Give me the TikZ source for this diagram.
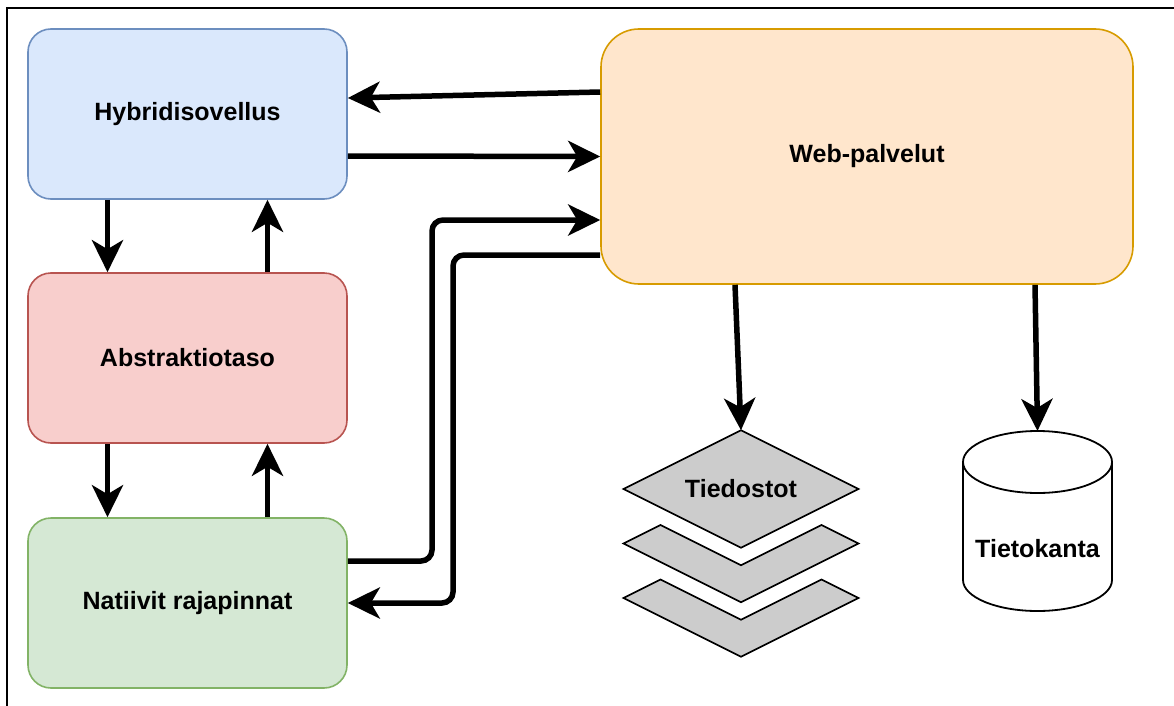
\documentclass[tikz,border=0pt]{standalone}
\usepackage{fontspec}
\setmainfont{Liberation Sans}
\usetikzlibrary{arrows.meta}
\definecolor{hybFill}{HTML}{DAE8FC}\definecolor{hybLine}{HTML}{6C8EBF}
\definecolor{absFill}{HTML}{F8CECC}\definecolor{absLine}{HTML}{B85450}
\definecolor{natFill}{HTML}{D5E8D4}\definecolor{natLine}{HTML}{82B366}
\definecolor{webFill}{HTML}{FFE6CC}\definecolor{webLine}{HTML}{D79B00}
\definecolor{layerFill}{HTML}{CCCCCC}
\begin{document}
\begin{tikzpicture}[x=1pt,y=-1pt,
  lbl/.style={font=\fontsize{25}{30}\selectfont\bfseries, inner sep=0pt},
  box/.style={lbl, rectangle, rounded corners=23pt, line width=1.6pt,
    minimum width=319pt, minimum height=170pt},
  arr/.style={line width=5.5pt, -{Stealth[length=32pt,width=31pt,inset=9pt]}},
  bent/.style={arr, rounded corners=11pt},
  layer/.style={draw=black, fill=layerFill, line width=1.6pt},
  drum/.style={draw=black, fill=white, line width=1.8pt}]
\useasboundingbox (0,0) rectangle (1174,706);

% outer frame
\draw[line width=2.3pt] (7,706) -- (7,8) -- (1174,8);

% client-side layers
\node[box, fill=hybFill, draw=hybLine] (hyb) at (187.5,114) {Hybridisovellus};
\node[box, fill=absFill, draw=absLine] (abs) at (187.5,358) {Abstraktiotaso};
\node[box, fill=natFill, draw=natLine] (nat) at (187.5,603) {Natiivit rajapinnat};

% server side
\node[lbl, rectangle, rounded corners=38pt, line width=1.6pt, fill=webFill, draw=webLine,
  minimum width=532pt, minimum height=255pt] (web) at (867,156.5) {Web-palvelut};

% file store: stacked layers
\path[layer] (623.5,598) -- (660.5,579.5) -- (741,619.75) -- (821.5,579.5) -- (858.5,598) -- (741,656.75) -- cycle;
\path[layer] (623.5,543.5) -- (660.5,525) -- (741,565.25) -- (821.5,525) -- (858.5,543.5) -- (741,602.25) -- cycle;
\path[layer] (623.5,489) -- (741,430.25) -- (858.5,489) -- (741,547.75) -- cycle;
\node[lbl] (files) at (741,489) {Tiedostot};
\coordinate (filesTop) at (741,430.25);

% database cylinder
\path[drum] (963,462) -- (963,580) arc[start angle=180,end angle=0,x radius=74.5,y radius=31]
  -- (1112,462) arc[start angle=0,end angle=-180,x radius=74.5,y radius=31] -- cycle;
\draw[line width=1.8pt] (963,462) arc[start angle=180,end angle=0,x radius=74.5,y radius=31];
\node[lbl] (db) at (1037.5,549) {Tietokanta};
\coordinate (dbTop) at (1037.5,431);

% connectors
\draw[arr] ([yshift=64.5pt]web.west) -- ([yshift=16pt]hyb.east);
\draw[arr] ([yshift=-42pt]hyb.east) -- (web.west);
\draw[arr] ([xshift=-80pt]hyb.south) -- ([xshift=-80pt]abs.north);
\draw[arr] ([xshift=80pt]abs.north) -- ([xshift=80pt]hyb.south);
\draw[arr] ([xshift=-80pt]abs.south) -- ([xshift=-80pt]nat.north);
\draw[arr] ([xshift=80pt]nat.north) -- ([xshift=80pt]abs.south);

\coordinate (n1) at ([yshift=42pt]nat.east);
\coordinate (w1) at ([yshift=-63.5pt]web.west);
\coordinate (r1) at (432,400);
\draw[bent] (n1) -| (r1) |- (w1);

\coordinate (w2) at ([yshift=-98.5pt]web.west);
\coordinate (n2) at (nat.east);
\coordinate (r2) at (453,400);
\draw[bent] (w2) -| (r2) |- (n2);

\draw[arr] ([xshift=-132pt]web.south) -- (filesTop);
\draw[arr] ([xshift=168pt]web.south) -- (dbTop);
\end{tikzpicture}
\end{document}
